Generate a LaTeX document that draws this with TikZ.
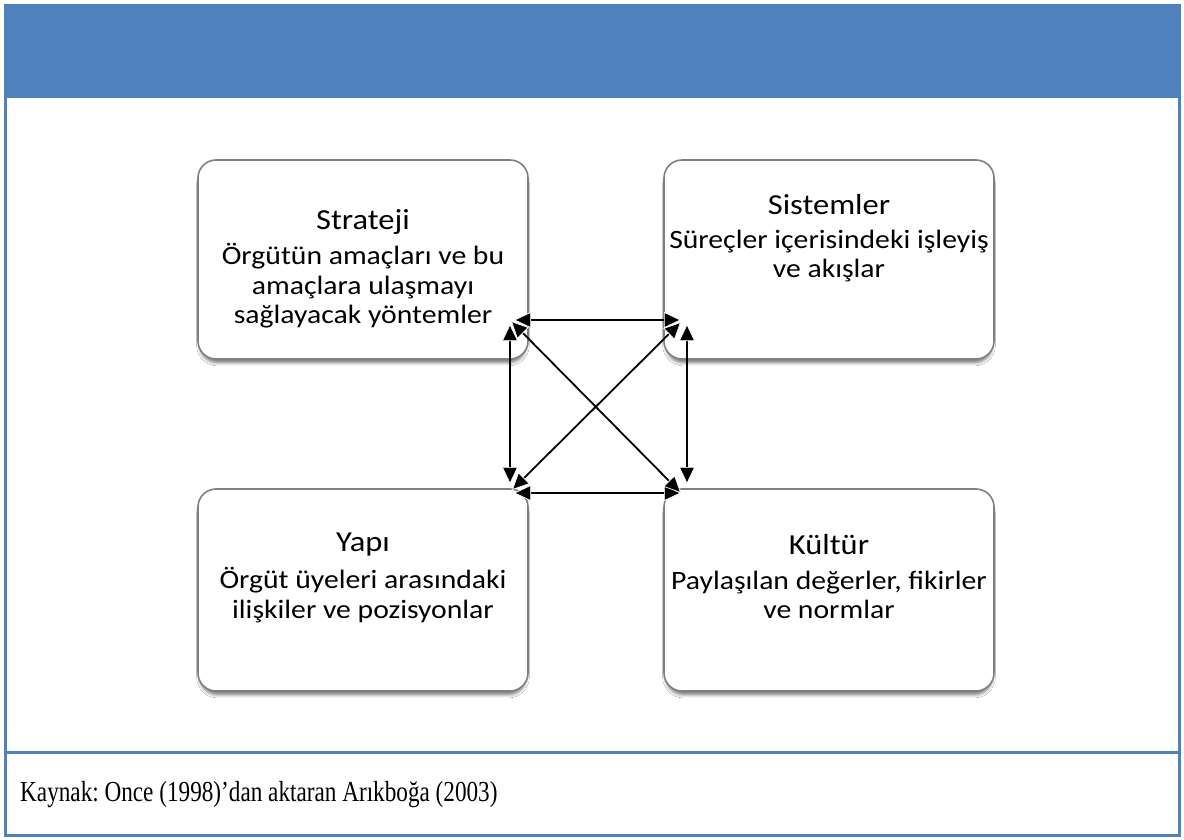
\documentclass[tikz,border=0pt]{standalone}
\usepackage{fontspec}
\setmainfont{Liberation Serif}
\newfontfamily\boxfont[FakeStretch=1.12]{Carlito}
\newfontfamily\srcfont[FakeStretch=0.8]{Liberation Serif}
\usetikzlibrary{arrows.meta,shadows.blur}
\definecolor{frameblue}{HTML}{4F81BD}
\definecolor{boxgray}{HTML}{808080}
\frenchspacing

\begin{document}
\begin{tikzpicture}[x=1pt,y=-1pt,
  card/.style={draw=boxgray, line width=1.6pt, fill=white, rounded corners=18pt,
    minimum width=330pt, inner sep=0pt,
    blur shadow={shadow xshift=0pt, shadow yshift=-5pt, shadow scale=0.99,
      shadow blur radius=3pt, shadow opacity=50}},
  heading/.style={inner sep=0pt, font=\boxfont\fontsize{29}{32}\selectfont},
  body/.style={inner sep=0pt, align=center, font=\boxfont\fontsize{26.5}{29.5}\selectfont},
  tip/.tip={Triangle[length=17pt,width=16pt,line width=0.7pt,color=white,fill=black]},
  link/.style={line width=1.8pt, black, tip-tip},
  rule/.style={frameblue, line width=3pt}
]
\useasboundingbox (0,0) rectangle (1184,840);
\fill[white] (0,0) rectangle (1184,840);

% outer frame with blue header band and source row
\fill[frameblue] (4,4) rectangle (1181,98);
\draw[rule] (5.5,98) -- (5.5,835.5) -- (1179.5,835.5) -- (1179.5,98);
\draw[rule] (5.5,752.5) -- (1179.5,752.5);

% the four cards
\node[card, minimum height=199pt] (strat) at (363,259.5) {};
\node[card, minimum height=199pt] (sys)   at (829,259.5) {};
\node[card, minimum height=202pt] (yapi)  at (363,590) {};
\node[card, minimum height=202pt] (kult)  at (829,590) {};

\node[heading] (strat-t) at (363,222) {Strateji};
\node[body]    (strat-b) at (363,286) {Örgütün amaçları ve bu\\amaçlara ulaşmayı\\sağlayacak yöntemler};

\node[heading] (sys-t) at (829,205) {Sistemler};
\node[body]    (sys-b) at (829,256) {Süreçler içerisindeki işleyiş\\ve akışlar};

\node[heading] (yapi-t) at (363,545) {Yapı};
\node[body]    (yapi-b) at (363,595) {Örgüt üyeleri arasındaki\\ilişkiler ve pozisyonlar};

\node[heading] (kult-t) at (829,545) {Kültür};
\node[body]    (kult-b) at (829,595) {Paylaşılan değerler, fikirler\\ve normlar};

% connector end points between the cards
\coordinate (top-l) at (514,320);
\coordinate (top-r) at (681,320);
\coordinate (bot-l) at (514,493);
\coordinate (bot-r) at (681,493);
\coordinate (lft-t) at (510,324);
\coordinate (lft-b) at (510,484);
\coordinate (rgt-t) at (687,324);
\coordinate (rgt-b) at (687,484);
\coordinate (dia-tl) at (511,321);
\coordinate (dia-br) at (681,493);
\coordinate (dia-tr) at (681,322);
\coordinate (dia-bl) at (512,490);

\draw[link] (top-l) -- (top-r);
\draw[link] (bot-l) -- (bot-r);
\draw[link] (lft-t) -- (lft-b);
\draw[link] (rgt-t) -- (rgt-b);
\draw[link] (dia-tl) -- (dia-br);
\draw[link] (dia-tr) -- (dia-bl);

% source line
\node[anchor=west, inner sep=0pt, font=\srcfont\fontsize{29}{32}\selectfont] (src) at (20,795)
  {Kaynak: Once (1998)’dan aktaran Arıkboğa (2003)};
\end{tikzpicture}
\end{document}
